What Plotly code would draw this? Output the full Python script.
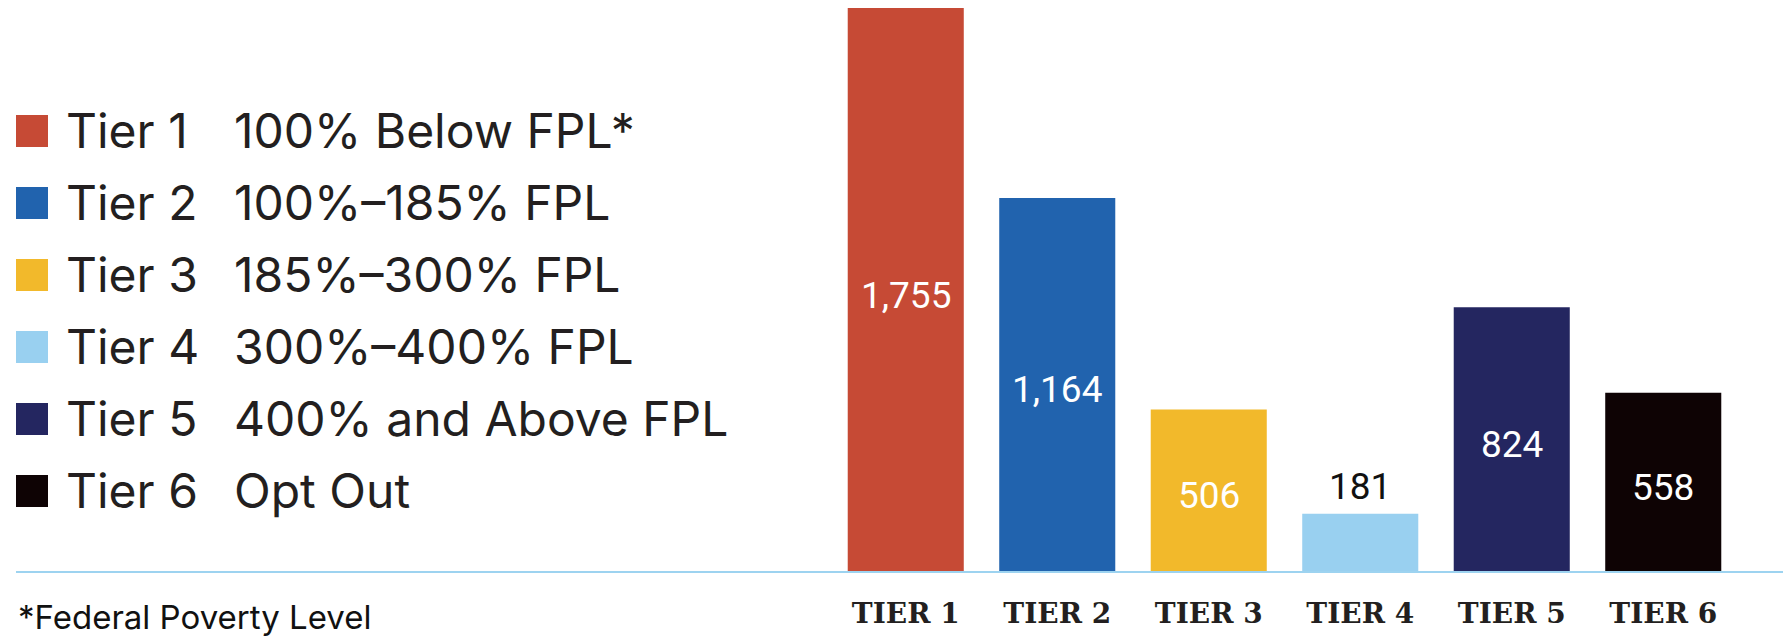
import plotly.graph_objects as go

# ---- data ----
tiers = ["TIER 1", "TIER 2", "TIER 3", "TIER 4", "TIER 5", "TIER 6"]
legend_names = ["Tier 1", "Tier 2", "Tier 3", "Tier 4", "Tier 5", "Tier 6"]
descriptions = ["100% Below FPL*", "100%\u2013185% FPL", "185%\u2013300% FPL",
                "300%\u2013400% FPL", "400% and Above FPL", "Opt Out"]
values = [1755, 1164, 506, 181, 824, 558]
colors = ["#c64a35", "#2163ae", "#f2b92b", "#99d0f0", "#242660", "#0e0304"]
label_inside = [True, True, True, False, True, True]
text_colors = ["#ffffff", "#ffffff", "#ffffff", "#111111", "#ffffff", "#ffffff"]
footnote = "*Federal Poverty Level"

W, H = 1783, 636
BASE = 572          # pixel row of the baseline
TOP = 8             # pixel row of the tallest bar top

def px_x(p):
    return p / W

def px_y(p):
    return (BASE - p) / BASE

fig = go.Figure()
fig.add_trace(go.Bar(
    x=tiers, y=values,
    marker=dict(color=colors, line=dict(width=0)),
    width=0.766,
    showlegend=False,
    hoverinfo="skip",
))

ymax = max(values) * BASE / (BASE - TOP)

shapes = [dict(type="line", xref="paper", yref="paper",
               x0=px_x(16), x1=1, y0=0, y1=0,
               line=dict(color="#9dd3f0", width=2))]
annotations = []

# value labels, placed on the data axes
for t, v, inside, tc in zip(tiers, values, label_inside, text_colors):
    if inside:
        annotations.append(dict(x=t, y=v / 2, xref="x", yref="y", text=f"{v:,}",
                                showarrow=False, yanchor="middle", yshift=-5,
                                font=dict(family="Roboto", size=37, color=tc)))
    else:
        annotations.append(dict(x=t, y=v, xref="x", yref="y", text=f"{v:,}",
                                showarrow=False, yanchor="bottom", yshift=4,
                                font=dict(family="Roboto", size=37, color=tc)))

for i, (nm, desc, col) in enumerate(zip(legend_names, descriptions, colors)):
    cy = 131 + 72 * i
    shapes.append(dict(type="rect", xref="paper", yref="paper",
                       x0=px_x(16), x1=px_x(48), y0=px_y(cy - 16), y1=px_y(cy + 16),
                       fillcolor=col, line=dict(width=0)))
    annotations.append(dict(text=nm, xref="paper", yref="paper",
                            x=px_x(64), y=px_y(cy - 1), xanchor="left", yanchor="middle",
                            showarrow=False,
                            font=dict(family="Inter", size=48, color="#231f20", weight=380)))
    annotations.append(dict(text=desc, xref="paper", yref="paper",
                            x=px_x(232), y=px_y(cy - 1), xanchor="left", yanchor="middle",
                            showarrow=False,
                            font=dict(family="Inter", size=48, color="#231f20", weight=380)))
annotations.append(dict(text=footnote, xref="paper", yref="paper",
                        x=px_x(16), y=px_y(617), xanchor="left", yanchor="middle",
                        showarrow=False,
                        font=dict(family="Inter", size=33, color="#111111")))

fig.update_layout(
    width=W, height=H,
    margin=dict(l=0, r=0, t=0, b=H - BASE, pad=0),
    paper_bgcolor="white", plot_bgcolor="white",
    xaxis=dict(domain=[830 / W, 1739 / W], showgrid=False, zeroline=False,
               showline=False, ticks="", ticklabelstandoff=22,
               tickfont=dict(family="DejaVu Serif", size=28, color="#231f20", weight="bold")),
    yaxis=dict(range=[0, ymax], visible=False, showgrid=False, zeroline=False),
    shapes=shapes,
    annotations=annotations,
    bargap=0.234,
)

fig.write_html("out.html", config={"displayModeBar": False},
               post_script="document.body.style.margin='0';")
